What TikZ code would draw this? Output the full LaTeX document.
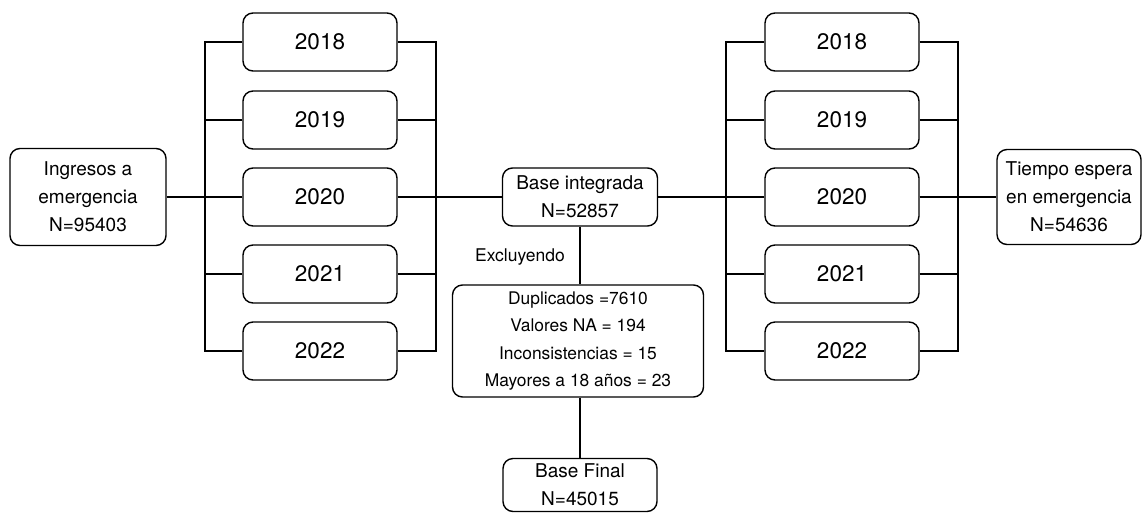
\documentclass[tikz,border=0pt]{standalone}
\usepackage{fontspec}
\setmainfont{TeX Gyre Heros}
\usetikzlibrary{positioning}
\tikzset{
  caja/.style={draw, rounded corners=10pt, line width=1.4pt, align=center, inner sep=0pt},
  anio/.style={caja, minimum width=154pt, minimum height=58pt, font=\fontsize{22.5}{26}\selectfont},
  linea/.style={line width=1.4pt}
}
\begin{document}
\begin{tikzpicture}[x=1pt, y=-1pt]
    \useasboundingbox (0,0) rectangle (1142,512);
    % sources
    \node[caja, minimum width=156pt, minimum height=97pt, font=\fontsize{19}{28}\selectfont] (ing) at (88,197) {Ingresos a\\emergencia\\N=95403};
    \node[caja, minimum width=144pt, minimum height=95pt, font=\fontsize{19}{28}\selectfont] (tiempo) at (1069,197) {Tiempo espera\\en emergencia\\N=54636};
    % years
    \foreach \y/\yy in {2018/42, 2019/120, 2020/197, 2021/274, 2022/351} {
        \node[anio] (izq\y) at (320,\yy) {\y};
        \node[anio] (der\y) at (842,\yy) {\y};
    }
    % center
    \node[caja, minimum width=155pt, minimum height=58pt, font=\fontsize{19}{28}\selectfont] (base) at (580,197) {Base integrada\\N=52857};
    \node[caja, minimum width=251pt, minimum height=112pt, font=\fontsize{17.4}{27.5}\selectfont] (excl) at (578,341) {Duplicados =7610\\Valores NA = 194\\Inconsistencias = 15\\Mayores a 18 años = 23};
    \node[caja, minimum width=154pt, minimum height=53pt, font=\fontsize{19}{28}\selectfont] (final) at (580,485) {Base Final\\N=45015};
    \node[font=\fontsize{17.5}{20}\selectfont] (exlab) at (520,257) {Excluyendo};
    % brackets left
    \coordinate (lt) at (205,42);
    \coordinate (lb) at (205,351);
    \coordinate (rt) at (436,42);
    \coordinate (rb) at (436,351);
    \draw[linea] (izq2018.west) -- (lt) -- (lb) -- (izq2022.west);
    \draw[linea] (izq2018.east) -- (rt) -- (rb) -- (izq2022.east);
    \foreach \y in {2019, 2020, 2021} {
        \draw[linea] (izq\y.west) -- (izq\y.west -| lt);
        \draw[linea] (izq\y.east) -- (izq\y.east -| rt);
    }
    % brackets right
    \coordinate (lt2) at (726,42);
    \coordinate (lb2) at (726,351);
    \coordinate (rt2) at (958,42);
    \coordinate (rb2) at (958,351);
    \draw[linea] (der2018.west) -- (lt2) -- (lb2) -- (der2022.west);
    \draw[linea] (der2018.east) -- (rt2) -- (rb2) -- (der2022.east);
    \foreach \y in {2019, 2020, 2021} {
        \draw[linea] (der\y.west) -- (der\y.west -| lt2);
        \draw[linea] (der\y.east) -- (der\y.east -| rt2);
    }
    % links
    \draw[linea] (ing.east) -- (izq2020.west);
    \draw[linea] (izq2020.east -| rt) -- (base.west);
    \draw[linea] (base.east) -- (der2020.west -| lt2);
    \draw[linea] (der2020.east) -- (tiempo.west);
    \draw[linea] (base.south) -- (base.south |- excl.north);
    \draw[linea] (final.north |- excl.south) -- (final.north);
\end{tikzpicture}
\end{document}
